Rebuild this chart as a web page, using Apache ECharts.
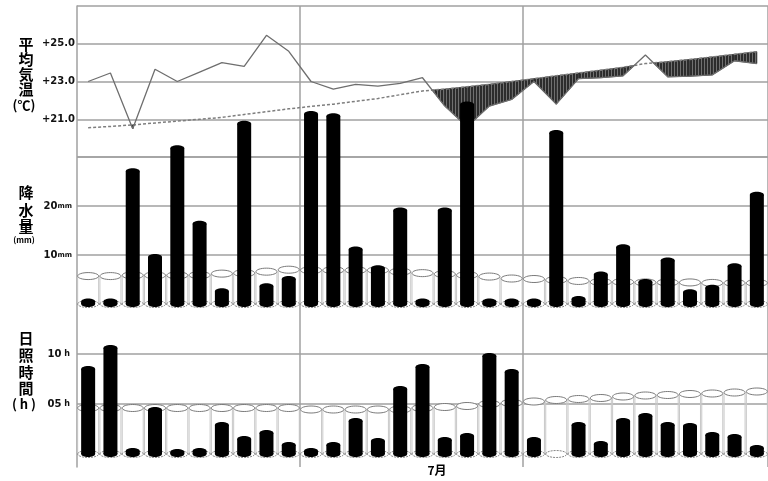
<!DOCTYPE html>
<html>
<head>
<meta charset="utf-8">
<script src="https://cdn.jsdelivr.net/npm/echarts@6/dist/echarts.min.js"></script>
<style>
  html, body { margin: 0; padding: 0; background: #fff; }
  #chart { width: 768px; height: 481px; }
</style>
</head>
<body>
<div id="chart"></div>
<script>
// Days of July
const days = [1, 2, 3, 4, 5, 6, 7, 8, 9, 10, 11, 12, 13, 14, 15, 16, 17, 18, 19, 20,
              21, 22, 23, 24, 25, 26, 27, 28, 29, 30, 31];

// Daily mean temperature (°C) and its normal
const tempMean = [23.0, 23.45, 20.5, 23.65, 23.0, 23.5, 24.0, 23.8, 25.45, 24.6,
                  23.0, 22.6, 22.85, 22.75, 22.9, 23.2, 21.7, 20.6, 21.7, 22.05,
                  23.0, 21.8, 23.15, 23.2, 23.3, 24.4, 23.25, 23.28, 23.35, 24.1, 23.95];
const tempNormal = [20.55, 20.62, 20.7, 20.8, 20.9, 21.0, 21.1, 21.25, 21.4, 21.55,
                    21.68, 21.8, 21.95, 22.1, 22.3, 22.5, 22.6, 22.72, 22.85, 23.0,
                    23.15, 23.3, 23.45, 23.6, 23.75, 23.95, 24.05, 24.17, 24.3, 24.44, 24.58];

// Daily precipitation (mm) and its normal
const precip = [0.5, 0.5, 27.1, 9.6, 31.8, 16.4, 2.6, 36.8, 3.6, 5.1,
                38.8, 38.3, 11.1, 7.3, 19.1, 0.5, 19.1, 40.7, 0.5, 0.5,
                0.5, 34.9, 1.0, 6.0, 11.6, 4.5, 8.9, 2.4, 3.3, 7.7, 22.3];
const precipNormal = [5.7, 5.7, 5.85, 5.85, 5.85, 5.9, 6.2, 6.3, 6.6, 7.0,
                      6.9, 6.9, 6.9, 6.9, 6.6, 6.3, 6.1, 5.9, 5.6, 5.2,
                      5.1, 4.9, 4.7, 4.5, 4.5, 4.4, 4.4, 4.4, 4.3, 4.3, 4.3];

// Daily sunshine duration (h) and its normal
const sunshine = [8.5, 10.6, 0.3, 4.4, 0.2, 0.3, 2.9, 1.5, 2.1, 0.9,
                  0.3, 0.9, 3.3, 1.3, 6.5, 8.7, 1.4, 1.8, 9.8, 8.2,
                  1.4, 0, 2.9, 1.0, 3.3, 3.8, 2.9, 2.8, 1.9, 1.7, 0.6];
const sunshineNormal = [4.6, 4.6, 4.6, 4.6, 4.6, 4.6, 4.6, 4.6, 4.6, 4.6,
                        4.45, 4.45, 4.45, 4.45, 4.45, 4.6, 4.7, 4.8, 5.0, 5.1,
                        5.25, 5.4, 5.5, 5.6, 5.75, 5.85, 5.9, 6.0, 6.05, 6.15, 6.25];

// Labelled ticks
const tempTicks = [21, 23, 25];
const precipTicks = [10, 20];
const sunTicks = [5, 10];
const monthLabel = '7月';

// Vertical-stripe fill for days colder than normal
const hatchCanvas = document.createElement('canvas');
hatchCanvas.width = 3;
hatchCanvas.height = 4;
const hctx = hatchCanvas.getContext('2d');
hctx.fillStyle = '#2c2c2c';
hctx.fillRect(0, 0, 3, 4);
hctx.fillStyle = '#707070';
hctx.fillRect(2, 0, 1, 4);
const hatchFill = { image: hatchCanvas, repeat: 'repeat' };

const GRID_COLOR = '#a0a0a0';
const NUM_FONT = 'DejaVu Sans';
const JP_FONT = '"Noto Sans CJK JP", "Noto Sans CJK SC", sans-serif';

// Area between mean temperature and normal where it runs below normal
function hatchItem(params, api) {
  const i = params.dataIndex;
  const x0 = days[i], x1 = days[i + 1];
  const t0 = tempMean[i], t1 = tempMean[i + 1];
  const n0 = tempNormal[i], n1 = tempNormal[i + 1];
  const d0 = t0 - n0, d1 = t1 - n1;
  let pts;
  if (d0 <= 0 && d1 <= 0) {
    pts = [[x0, n0], [x1, n1], [x1, t1], [x0, t0]];
  } else if (d0 < 0 && d1 > 0) {
    const f = d0 / (d0 - d1);
    pts = [[x0, n0], [x0 + f * (x1 - x0), t0 + f * (t1 - t0)], [x0, t0]];
  } else if (d0 > 0 && d1 < 0) {
    const f = d0 / (d0 - d1);
    pts = [[x0 + f * (x1 - x0), t0 + f * (t1 - t0)], [x1, n1], [x1, t1]];
  } else {
    return null;
  }
  return {
    type: 'polygon',
    shape: { points: pts.map(p => api.coord(p)) },
    style: { fill: hatchFill, stroke: '#333', lineWidth: 0.8 }
  };
}

// Cylinder pair: open cylinder = normal, solid black cylinder = observed
function cylinderRenderer(normals) {
  return function (params, api) {
    const i = params.dataIndex;
    const day = api.value(0);
    const val = api.value(1);
    const base = api.coord([day, 0]);
    const top = api.coord([day, normals[i]]);
    const act = api.coord([day, val]);
    const cx = base[0];
    const RX = 10.5, RY = 3.5, BX = 7, BY = 3;
    const children = [
      { type: 'line', shape: { x1: cx - RX, y1: base[1], x2: cx - RX, y2: top[1] },
        style: { stroke: '#c8c8c8', lineWidth: 1 } },
      { type: 'line', shape: { x1: cx + RX, y1: base[1], x2: cx + RX, y2: top[1] },
        style: { stroke: '#c8c8c8', lineWidth: 1 } },
      { type: 'ellipse', shape: { cx: cx, cy: base[1], rx: RX, ry: RY },
        style: { fill: '#fff', stroke: '#888', lineWidth: 1, lineDash: [2, 1] } },
      { type: 'ellipse', shape: { cx: cx, cy: top[1], rx: RX, ry: RY },
        style: { fill: '#fff', stroke: '#7a7a7a', lineWidth: 1 } }
    ];
    if (val > 0) {
      children.push(
        { type: 'rect', shape: { x: cx - BX, y: act[1], width: BX * 2, height: base[1] - act[1] },
          style: { fill: '#000' } },
        { type: 'ellipse', shape: { cx: cx, cy: act[1], rx: BX, ry: BY }, style: { fill: '#000' } },
        { type: 'ellipse', shape: { cx: cx, cy: base[1], rx: BX, ry: BY }, style: { fill: '#000' } }
      );
    }
    return { type: 'group', children: children };
  };
}

const GRID_LEFT = 77;
const GRID_WIDTH = 697.5;

const hiddenX = (gi) => ({
  gridIndex: gi, type: 'value', min: 0.5, max: 31.5, show: false
});

const chart = echarts.init(document.getElementById('chart'), null, { renderer: 'canvas' });

function titleChar(text, x, y, size) {
  return {
    type: 'text', x: x, y: y,
    style: { text: text, font: 'bold ' + size + 'px ' + JP_FONT, align: 'center', verticalAlign: 'middle', fill: '#000' }
  };
}

chart.setOption({
  animation: false,
  backgroundColor: '#fff',
  grid: [
    { left: GRID_LEFT, width: GRID_WIDTH, top: 6, height: 151 },    // temperature
    { left: GRID_LEFT, width: GRID_WIDTH, top: 157, height: 147 },  // precipitation
    { left: GRID_LEFT, width: GRID_WIDTH, top: 304, height: 150 },  // sunshine
    { left: GRID_LEFT, width: GRID_WIDTH, top: 6, height: 461 }     // frame with 10-day dividers
  ],
  xAxis: [
    hiddenX(0), hiddenX(1), hiddenX(2),
    {
      gridIndex: 3, type: 'category', data: days, boundaryGap: true,
      axisLine: { show: false }, axisTick: { show: false }, axisLabel: { show: false },
      splitLine: {
        show: true,
        interval: function (index) { return index === 10 || index === 20; },
        lineStyle: { color: GRID_COLOR, width: 1.5 }
      }
    }
  ],
  yAxis: [
    {
      gridIndex: 0, type: 'value', min: 19, max: 27, interval: 1,
      axisLine: { show: false }, axisTick: { show: false },
      axisLabel: {
        margin: 2, color: '#111', fontFamily: NUM_FONT, fontWeight: 'bold', fontSize: 10,
        formatter: v => tempTicks.includes(v) ? '+' + v.toFixed(1) : ''
      },
      splitLine: { lineStyle: { color: [GRID_COLOR, 'rgba(0,0,0,0)'], width: 1.5 } }
    },
    {
      gridIndex: 1, type: 'value', min: 0, max: 30, interval: 10,
      axisLine: { show: false }, axisTick: { show: false },
      axisLabel: {
        margin: 5, color: '#111',
        formatter: v => precipTicks.includes(v) ? '{n|' + v + '}{u|mm}' : '',
        rich: {
          n: { fontFamily: NUM_FONT, fontWeight: 'bold', fontSize: 10, color: '#111' },
          u: { fontFamily: NUM_FONT, fontWeight: 'bold', fontSize: 7, color: '#111' }
        }
      },
      splitLine: { lineStyle: { color: GRID_COLOR, width: 1.5 } }
    },
    {
      gridIndex: 2, type: 'value', min: 0, max: 15, interval: 5,
      axisLine: { show: false }, axisTick: { show: false },
      axisLabel: {
        margin: 7, color: '#111',
        formatter: v => sunTicks.includes(v) ? '{n|' + String(v).padStart(2, '0') + '}{u| h}' : '',
        rich: {
          n: { fontFamily: NUM_FONT, fontWeight: 'bold', fontSize: 10, color: '#111' },
          u: { fontFamily: NUM_FONT, fontWeight: 'bold', fontSize: 8, color: '#111' }
        }
      },
      splitLine: { lineStyle: { color: GRID_COLOR, width: 1.5 } }
    },
    {
      gridIndex: 3, type: 'value', min: 0, max: 1,
      axisLine: { show: true, lineStyle: { color: GRID_COLOR, width: 1.5 } },
      axisTick: { show: false }, axisLabel: { show: false }, splitLine: { show: false }
    }
  ],
  series: [
    {
      type: 'custom', name: 'below-normal', xAxisIndex: 0, yAxisIndex: 0, z: 2,
      renderItem: hatchItem, clip: false,
      data: days.slice(0, days.length - 1).map((d, i) => [d, tempMean[i]])
    },
    {
      type: 'line', name: '平年値', xAxisIndex: 0, yAxisIndex: 0, z: 3,
      data: days.map((d, i) => [d, tempNormal[i]]),
      symbol: 'none',
      lineStyle: { color: '#7e7e7e', width: 1.5, type: [3, 2] }
    },
    {
      type: 'line', name: '平均気温', xAxisIndex: 0, yAxisIndex: 0, z: 4,
      data: days.map((d, i) => [d, tempMean[i]]),
      symbol: 'none',
      lineStyle: { color: '#6e6e6e', width: 1.3 }
    },
    {
      type: 'custom', name: '降水量', xAxisIndex: 1, yAxisIndex: 1, z: 5, clip: false,
      renderItem: cylinderRenderer(precipNormal),
      data: days.map((d, i) => [d, precip[i]])
    },
    {
      type: 'custom', name: '日照時間', xAxisIndex: 2, yAxisIndex: 2, z: 5, clip: false,
      renderItem: cylinderRenderer(sunshineNormal),
      data: days.map((d, i) => [d, sunshine[i]])
    }
  ],
  graphic: [
    titleChar('平', 26, 44, 15),
    titleChar('均', 26, 59, 15),
    titleChar('気', 26, 74, 15),
    titleChar('温', 26, 89, 15),
    titleChar('(℃)', 24, 105, 13),

    titleChar('降', 26, 192, 15),
    titleChar('水', 26, 210, 15),
    titleChar('量', 26, 226, 15),
    titleChar('(mm)', 24, 240, 8),

    titleChar('日', 26, 338, 15),
    titleChar('照', 26, 355, 15),
    titleChar('時', 26, 372, 15),
    titleChar('間', 26, 388, 15),
    titleChar('( h )', 24, 404, 13),

    titleChar(monthLabel, 437, 470, 12)
  ]
});
</script>
</body>
</html>
